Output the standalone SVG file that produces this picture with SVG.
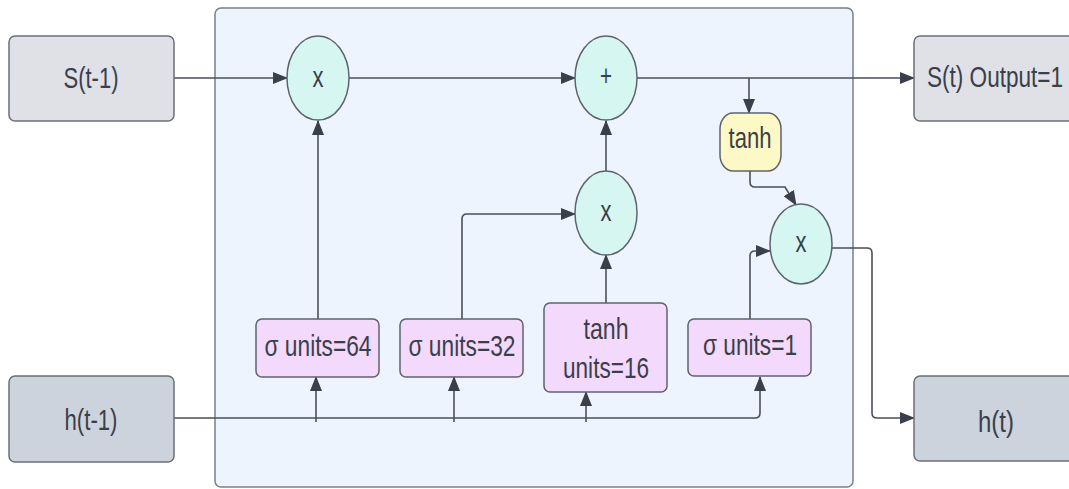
<svg xmlns="http://www.w3.org/2000/svg" width="1069" height="489" viewBox="0 0 1069 489">
  <defs>
    <marker id="arrow" viewBox="0 0 15 12" refX="14" refY="6" markerWidth="15" markerHeight="12" markerUnits="userSpaceOnUse" orient="auto">
      <path d="M0,0 L15,6 L0,12 Z" fill="#3a4049"/>
    </marker>
    <style>
      text { font-family: "Liberation Sans", Arial, sans-serif; font-size: 30px; fill: #3a3f4a; text-anchor: middle; }
      .io { fill: #dfe1e6; stroke: #6b6f78; stroke-width: 1.5; }
      .hid { fill: #cdd3dc; stroke: #6b6f78; stroke-width: 1.5; }
      .op { fill: #d6f7f1; stroke: #5d636d; stroke-width: 1.5; }
      .layer { fill: #f3d9fc; stroke: #5d636d; stroke-width: 1.5; }
      .act { fill: #fdf9c6; stroke: #5d636d; stroke-width: 1.5; }
      .wire { fill: none; stroke: #4a4f58; stroke-width: 1.6; }
      .arr { marker-end: url(#arrow); }
    </style>
  </defs>

  <!-- LSTM cell body -->
  <rect id="cell" x="215" y="8" width="638" height="479" rx="6" fill="#edf4fe" stroke="#7a7f88" stroke-width="1.5"/>

  <!-- connectors -->
  <g id="connectors">
    <!-- cell state path -->
    <path class="wire arr" d="M174,78 H287"/>
    <path class="wire arr" d="M349,78 H575"/>
    <path class="wire arr" d="M637,78 H914"/>
    <path class="wire arr" d="M749,78 V113"/>
    <path class="wire arr" d="M750,171 V182 Q750,187 755,187 H785 L796,205"/>
    <!-- gates -->
    <path class="wire arr" d="M318,319 V121"/>
    <path class="wire arr" d="M462,319 V219 Q462,214 467,214 H575"/>
    <path class="wire arr" d="M606,303 V255"/>
    <path class="wire arr" d="M606,171 V121"/>
    <path class="wire arr" d="M750,319 V256 Q750,251 755,251 H770"/>
    <!-- hidden output -->
    <path class="wire arr" d="M832,248 H867 Q872,248 872,253 V413 Q872,418 877,418 H914"/>
    <!-- hidden input bus -->
    <path class="wire arr" d="M174,418 H755 Q760,418 760,413 V377"/>
    <path class="wire arr" d="M316,422 V377"/>
    <path class="wire arr" d="M454,422 V377"/>
    <path class="wire arr" d="M586,422 V392"/>
  </g>

  <!-- inputs -->
  <g id="s_prev">
    <rect class="io" x="9" y="36" width="165" height="85" rx="6"/>
    <text x="91" y="88" textLength="55" lengthAdjust="spacingAndGlyphs">S(t-1)</text>
  </g>
  <g id="h_prev">
    <rect class="hid" x="9" y="376" width="165" height="86" rx="6"/>
    <text x="91" y="430" textLength="53" lengthAdjust="spacingAndGlyphs">h(t-1)</text>
  </g>

  <!-- pointwise operations -->
  <g id="mul_forget">
    <ellipse class="op" cx="318" cy="78" rx="31" ry="42"/>
    <text x="318" y="87" textLength="11" lengthAdjust="spacingAndGlyphs">x</text>
  </g>
  <g id="add_state">
    <ellipse class="op" cx="606" cy="78" rx="31" ry="42"/>
    <text x="606" y="86" textLength="12" lengthAdjust="spacingAndGlyphs">+</text>
  </g>
  <g id="mul_input">
    <ellipse class="op" cx="606" cy="213" rx="31" ry="42"/>
    <text x="606" y="221" textLength="11" lengthAdjust="spacingAndGlyphs">x</text>
  </g>
  <g id="mul_output">
    <ellipse class="op" cx="801" cy="244" rx="31" ry="40"/>
    <text x="801" y="252" textLength="11" lengthAdjust="spacingAndGlyphs">x</text>
  </g>

  <!-- state activation -->
  <g id="tanh_state">
    <rect class="act" x="720" y="113" width="61" height="58" rx="13" ry="16"/>
    <text x="750" y="148" textLength="43" lengthAdjust="spacingAndGlyphs">tanh</text>
  </g>

  <!-- dense layers -->
  <g id="forget_gate">
    <rect class="layer" x="256" y="319" width="123" height="58" rx="6"/>
    <text x="318" y="356" textLength="107" lengthAdjust="spacingAndGlyphs">σ units=64</text>
  </g>
  <g id="input_gate">
    <rect class="layer" x="400" y="319" width="123" height="58" rx="6"/>
    <text x="462" y="356" textLength="107" lengthAdjust="spacingAndGlyphs">σ units=32</text>
  </g>
  <g id="candidate">
    <rect class="layer" x="544" y="303" width="123" height="89" rx="6"/>
    <text x="606" y="339" textLength="45" lengthAdjust="spacingAndGlyphs">tanh</text>
    <text x="606" y="378" textLength="86" lengthAdjust="spacingAndGlyphs">units=16</text>
  </g>
  <g id="output_gate">
    <rect class="layer" x="688" y="319" width="123" height="57" rx="6"/>
    <text x="750" y="355" textLength="94" lengthAdjust="spacingAndGlyphs">σ units=1</text>
  </g>

  <!-- outputs -->
  <g id="s_out">
    <rect class="io" x="914" y="36" width="170" height="85" rx="6"/>
    <text x="995" y="87" textLength="136" lengthAdjust="spacingAndGlyphs">S(t) Output=1</text>
  </g>
  <g id="h_out">
    <rect class="hid" x="914" y="376" width="170" height="85" rx="6"/>
    <text x="996" y="432" textLength="36" lengthAdjust="spacingAndGlyphs">h(t)</text>
  </g>
</svg>
